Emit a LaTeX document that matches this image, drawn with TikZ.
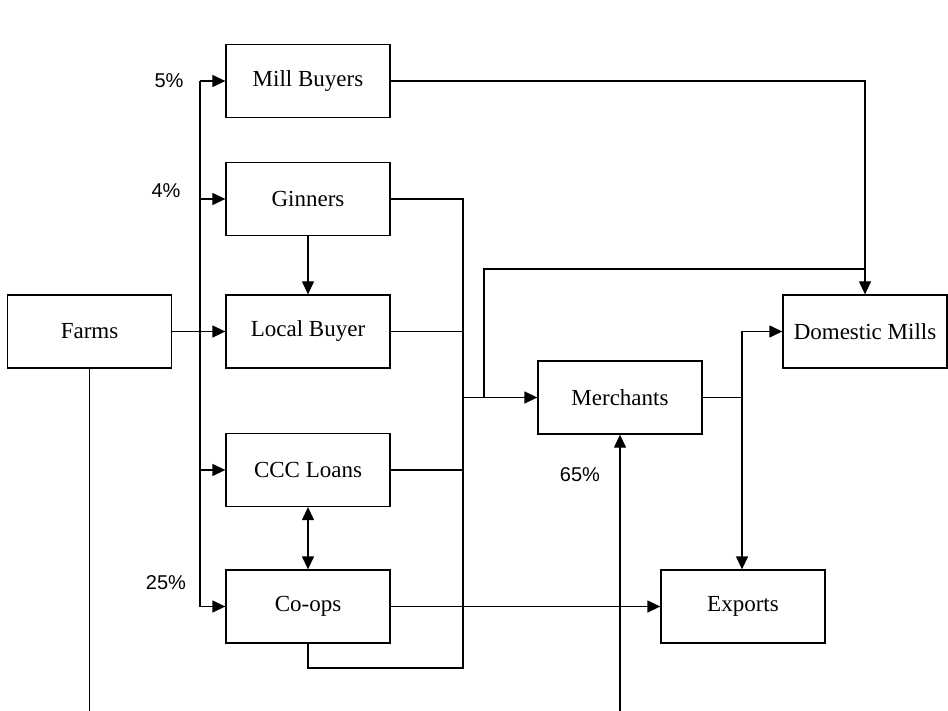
\documentclass[tikz,border=0pt]{standalone}
\usepackage{fontspec}
\setmainfont{Liberation Serif}
\newfontfamily\labfont{Liberation Sans}
\usetikzlibrary{arrows.meta}
\begin{document}
\begin{tikzpicture}[x=1pt,y=-1pt,line width=1.3pt,
  box/.style={draw,rectangle,minimum width=164pt,minimum height=73pt,inner sep=0pt,font=\fontsize{23}{27}\selectfont},
  pct/.style={font=\labfont\fontsize{20}{24}\selectfont,inner sep=0pt},
  arr/.style={-{Triangle[length=13pt,width=12pt]}},
  arrr/.style={{Triangle[length=13pt,width=12pt]}-{Triangle[length=13pt,width=12pt]}}]
\useasboundingbox (0,0) rectangle (948,711);
\node[box] (farms) at (89.5,331.5) {Farms};
\node[box] (mill) at (308,81) {Mill Buyers};
\node[box] (gin) at (308,199) {Ginners};
\node[box] (local) at (308,331.5) {Local Buyer};
\node[box] (ccc) at (308,470) {CCC Loans};
\node[box] (coops) at (308,606.5) {Co-ops};
\node[box] (merch) at (620,397.5) {Merchants};
\node[box] (dom) at (865,331.5) {Domestic Mills};
\node[box] (exp) at (743,606.5) {Exports};
\node[pct] (p5) at (169,81) {5\%};
\node[pct] (p4) at (166,191) {4\%};
\node[pct] (p25) at (166,583) {25\%};
\node[pct] (p65) at (580,475) {65\%};
\coordinate (bt) at (200,81);
\coordinate (bb) at (200,606.5);
\coordinate (c) at (463,199);
\coordinate (cb) at (463,668);
\coordinate (br) at (484,269);
\coordinate (sp) at (742,397.5);
\coordinate (fb) at (89.5,711);
\coordinate (mb) at (620,711);
% farms
\draw (farms.south) -- (fb);
\draw[arr] (farms.east) -- (local.west);
\draw (bt) -- (bb);
\draw[arr] (bt) -- (mill.west);
\draw[arr] (gin.west -| bt) -- (gin.west);
\draw[arr] (ccc.west -| bt) -- (ccc.west);
\draw[arr] (bb) -- (coops.west);
\draw[arr] (gin.south) -- (local.north);
\draw[arrr] (ccc.south) -- (coops.north);
% collector
\draw (gin.east) -- (c) -- (cb) -- (coops.south |- cb) -- (coops.south);
\draw (local.east) -- (local.east -| c);
\draw (ccc.east) -- (ccc.east -| c);
\draw[arr] (merch.west -| c) -- (merch.west);
\draw (merch.west -| br) -- (br) -- (br -| dom.north);
\draw[arr] (mill.east) -- (mill.east -| dom.north) -- (dom.north);
\draw[arr] (coops.east) -- (exp.west);
\draw (merch.east) -- (sp);
\draw[arr] (sp) |- (dom.west);
\draw[arr] (sp) -- (sp |- exp.north);
\draw[arr] (mb) -- (merch.south);
\end{tikzpicture}
\end{document}
